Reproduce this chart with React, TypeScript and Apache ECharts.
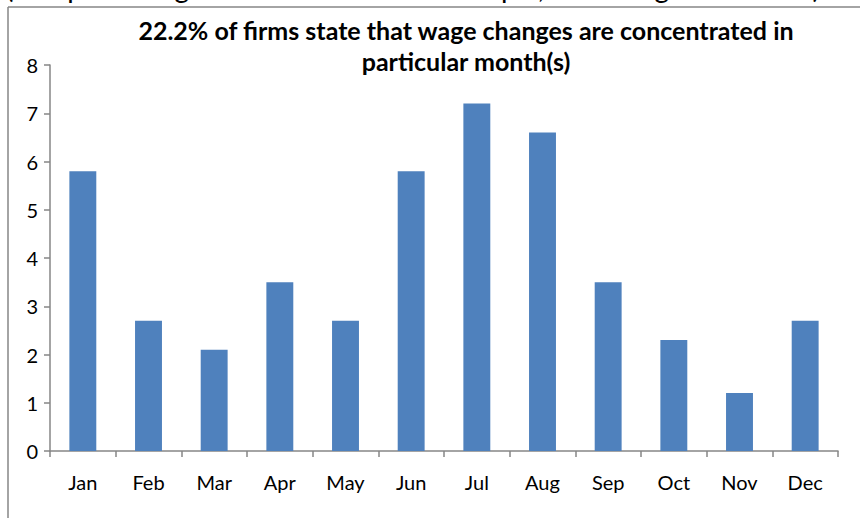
import React, { useEffect, useRef } from "react";
import * as echarts from "echarts";

const months = ["Jan", "Feb", "Mar", "Apr", "May", "Jun", "Jul", "Aug", "Sep", "Oct", "Nov", "Dec"];
const shares = [5.8, 2.7, 2.1, 3.5, 2.7, 5.8, 7.2, 6.6, 3.5, 2.3, 1.2, 2.7];
const titleText = "22.2% of firms state that wage changes are concentrated in\nparticular month(s)";
const clippedHeader = "(as a percentage of total firms in the sample, firm-weighted results)";

const FONT = "Lato, 'Open Sans', sans-serif";
const AXIS_GREY = "#868686";

export default function App() {
  const ref = useRef<HTMLDivElement>(null);
  useEffect(() => {
    if (!ref.current) return;
    const chart = echarts.init(ref.current, undefined, { renderer: "svg" });
    chart.setOption({
      animation: false,
      backgroundColor: "#ffffff",
      title: {
        text: titleText,
        left: 461,
        top: 9,
        textAlign: "center",
        textStyle: {
          fontFamily: FONT,
          fontSize: 25,
          fontWeight: "bold",
          color: "#000000",
          lineHeight: 31,
        },
      },
      grid: { left: 50, right: 22, top: 65, bottom: 67, containLabel: false },
      xAxis: {
        type: "category",
        data: months,
        boundaryGap: true,
        axisLine: { show: true, lineStyle: { color: AXIS_GREY, width: 1.5 } },
        axisTick: { show: true, alignWithLabel: false, length: 6, lineStyle: { color: AXIS_GREY, width: 1.5 } },
        axisLabel: { margin: 21, fontFamily: FONT, fontSize: 20, color: "#000000" },
        splitLine: { show: false },
      },
      yAxis: {
        type: "value",
        min: 0,
        max: 8,
        interval: 1,
        axisLine: { show: true, lineStyle: { color: AXIS_GREY, width: 1.5 } },
        axisTick: { show: true, length: 6, lineStyle: { color: AXIS_GREY, width: 1.5 } },
        axisLabel: { margin: 12, fontFamily: FONT, fontSize: 20, color: "#000000" },
        splitLine: { show: false },
      },
      series: [
        {
          type: "bar",
          data: shares,
          barWidth: "41%",
          itemStyle: { color: "#4F81BD" },
        },
      ],
      graphic: [
        {
          type: "text",
          left: 6,
          top: -27,
          style: { text: clippedHeader, fontFamily: FONT, fontSize: 28, fill: "#000000" },
          silent: true,
        },
        {
          type: "line",
          shape: { x1: 8, y1: 7, x2: 860, y2: 7 },
          style: { stroke: AXIS_GREY, lineWidth: 1.5 },
          silent: true,
        },
        {
          type: "line",
          shape: { x1: 8, y1: 7, x2: 8, y2: 518 },
          style: { stroke: AXIS_GREY, lineWidth: 1.5 },
          silent: true,
        },
      ],
    });
    return () => chart.dispose();
  }, []);
  return (
    <div
      ref={ref}
      style={{ position: "fixed", left: 0, top: 0, width: 860, height: 518, background: "#ffffff" }}
    />
  );
}
